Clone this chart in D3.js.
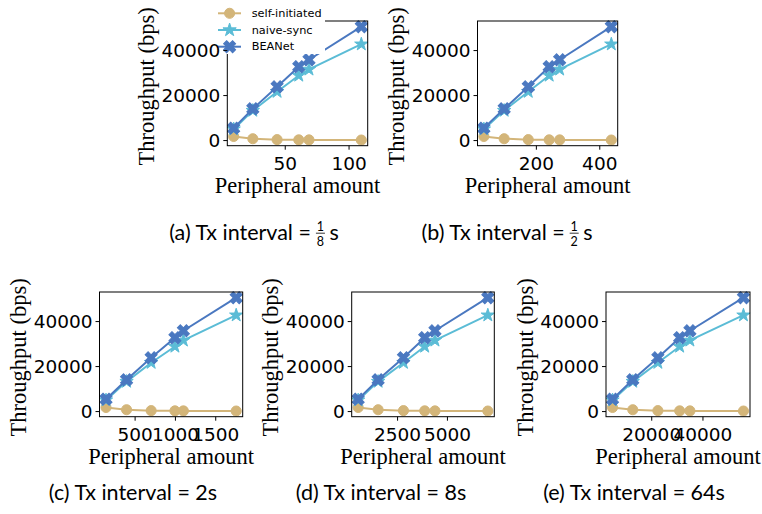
<!DOCTYPE html>
<html>
<head>
<meta charset="utf-8">
<script src="https://cdn.jsdelivr.net/npm/d3@7.9.0/dist/d3.min.js"></script>
<style>
  body { margin: 0; background: #fff; }
  svg { display: block; }
  text { white-space: pre; }
</style>
</head>
<body>
<svg width="762" height="514"></svg>
<script>
// series names and colours
const seriesNames = ['self-initiated', 'naive-sync', 'BEANet'];
const colors = ['#d3b579', '#5bbcd6', '#4a78c0'];

// throughput (bps) — same shape in every panel
const selfInitiated = [1600, 600, 200, 100, 80, 20];
const naiveSync = [4850, 13100, 21500, 28700, 31400, 42600];
const beanet = [5300, 13900, 23700, 32600, 35700, 50400];

// peripheral amounts
const xA = [10, 25, 44, 61, 69, 110];
const xB = [36, 100, 176, 242, 275, 438];
const xC = [145, 400, 705, 1000, 1105, 1760];
const xD = [550, 1550, 2820, 3885, 4400, 7050];
const xE = [4900, 12800, 22600, 31100, 35100, 56000];

// tick labels
const yTicks = [0, 20000, 40000];
const xTicksA = [50, 100];
const xTicksB = [200, 400];
const xTicksC = [500, 1000, 1500];
const xTicksD = [2500, 5000];
const xTicksE = [20000, 40000];

// captions
const captions = ['(a) Tx interval = ', '(b) Tx interval = ', '(c) Tx interval = 2s', '(d) Tx interval = 8s', '(e) Tx interval = 64s'];
const fractions = [['1', '8'], ['1', '2'], null, null, null];

const panels = [
  { x: xA, ticks: xTicksA, box: [227.3, 21, 140.4, 124.7], cap: [254, 240] },
  { x: xB, ticks: xTicksB, box: [477.5, 21, 140.2, 124.7], cap: [507, 240] },
  { x: xC, ticks: xTicksC, box: [99.5, 292, 143.2, 124.7], cap: [133, 500] },
  { x: xD, ticks: xTicksD, box: [351.7, 292, 142.6, 124.7], cap: [381, 500] },
  { x: xE, ticks: xTicksE, box: [606, 292, 144, 124.7], cap: [634, 500] },
];

const ys = [selfInitiated, naiveSync, beanet];
const symbols = [
  d3.symbol().type(d3.symbolCircle).size(80),
  d3.symbol().type(d3.symbolStar).size(55),
  d3.symbol().type(d3.symbolCross).size(90),
];
const rot = [0, 0, 45];

const svg = d3.select('svg');
const capFont = 'Lato';
const capSize = 21.5;

// matplotlib-like 5% margins
function padded(ext) {
  const d = (ext[1] - ext[0]) * 0.05;
  return [ext[0] - d, ext[1] + d];
}

const yDomain = padded(d3.extent(ys.flat()));

panels.forEach((p, pi) => {
  const [left, top, w, h] = p.box;
  const g = svg.append('g').attr('transform', `translate(${left},${top})`);
  const x = d3.scaleLinear().domain(padded(d3.extent(p.x))).range([0, w]);
  const y = d3.scaleLinear().domain(yDomain).range([h, 0]);

  // series lines + markers
  ys.forEach((vals, si) => {
    const pts = p.x.map((xv, i) => [x(xv), y(vals[i])]);
    g.append('path')
      .attr('d', d3.line()(pts))
      .attr('fill', 'none')
      .attr('stroke', colors[si])
      .attr('stroke-width', 2);
    g.selectAll(null).data(pts).enter().append('path')
      .attr('d', symbols[si])
      .attr('transform', d => `translate(${d[0]},${d[1]}) rotate(${rot[si]})`)
      .attr('fill', colors[si])
      .attr('stroke', colors[si])
      .attr('stroke-width', 1);
  });

  // frame
  g.append('rect').attr('width', w).attr('height', h)
    .attr('fill', 'none').attr('stroke', '#000').attr('stroke-width', 1);

  // legend on first panel: white box hides part of the frame
  if (pi === 0) {
    const lg = g.append('g').attr('transform', `translate(${-left},${-top})`);
    lg.append('rect').attr('x', 222).attr('y', 0).attr('width', 103).attr('height', 54).attr('fill', '#fff');
    seriesNames.forEach((name, si) => {
      const ry = 13.3 + si * 16.7;
      lg.append('line').attr('x1', 218).attr('x2', 241).attr('y1', ry).attr('y2', ry)
        .attr('stroke', colors[si]).attr('stroke-width', 2);
      lg.append('path').attr('d', symbols[si])
        .attr('transform', `translate(229.6,${ry}) rotate(${rot[si]})`)
        .attr('fill', colors[si]).attr('stroke', colors[si]);
      lg.append('text').attr('x', 251.7).attr('y', ry).attr('dominant-baseline', 'central')
        .attr('font-family', 'DejaVu Sans').attr('font-size', 11.3).text(name);
    });
  }

  // axes
  const xAxis = d3.axisBottom(x).tickValues(p.ticks).tickSize(4).tickPadding(3).tickFormat(d3.format('d'));
  const yAxis = d3.axisLeft(y).tickValues(yTicks).tickSize(4).tickPadding(3).tickFormat(d3.format('d'));
  const gx = g.append('g').attr('transform', `translate(0,${h})`).call(xAxis);
  const gy = g.append('g').call(yAxis);
  [gx, gy].forEach(a => {
    a.select('.domain').remove();
    a.selectAll('text').attr('font-family', 'DejaVu Sans').attr('font-size', 18.5).attr('fill', '#000');
    a.selectAll('line').attr('stroke', '#000');
  });
  gx.selectAll('text').attr('dy', null).attr('y', 24.5);
  gy.selectAll('text').attr('dy', '0.36em');

  // axis titles
  g.append('text')
    .attr('x', w / 2).attr('y', h + 47)
    .attr('text-anchor', 'middle')
    .attr('font-family', 'Liberation Serif').attr('font-size', 22.5)
    .text('Peripheral amount');
  g.append('text')
    .attr('transform', `translate(-81,${h / 2 + 3}) rotate(-90)`)
    .attr('text-anchor', 'middle').attr('dominant-baseline', 'central')
    .attr('font-family', 'Liberation Serif').attr('font-size', 22.5)
    .text('Throughput (bps)');

  // caption
  const cg = svg.append('g');
  const t = cg.append('text')
    .attr('x', 0).attr('y', p.cap[1])
    .attr('font-family', capFont).attr('font-size', capSize)
    .text(captions[pi]);
  let tw = t.node().getComputedTextLength();
  const fr = fractions[pi];
  if (fr) {
    const fx = tw + 4;
    cg.append('text').attr('x', fx).attr('y', p.cap[1] - 9.5)
      .attr('text-anchor', 'middle').attr('font-family', capFont).attr('font-size', 12.5).text(fr[0]);
    cg.append('line').attr('x1', fx - 4.5).attr('x2', fx + 4.5)
      .attr('y1', p.cap[1] - 6.8).attr('y2', p.cap[1] - 6.8)
      .attr('stroke', '#000').attr('stroke-width', 0.8);
    cg.append('text').attr('x', fx).attr('y', p.cap[1] + 5.5)
      .attr('text-anchor', 'middle').attr('font-family', capFont).attr('font-size', 12.5).text(fr[1]);
    const s = cg.append('text').attr('x', fx + 9).attr('y', p.cap[1])
      .attr('font-family', capFont).attr('font-size', capSize).text('s');
    tw = fx + 9 + s.node().getComputedTextLength();
  }
  cg.attr('transform', `translate(${p.cap[0] - tw / 2},0)`);
});
</script>
</body>
</html>
